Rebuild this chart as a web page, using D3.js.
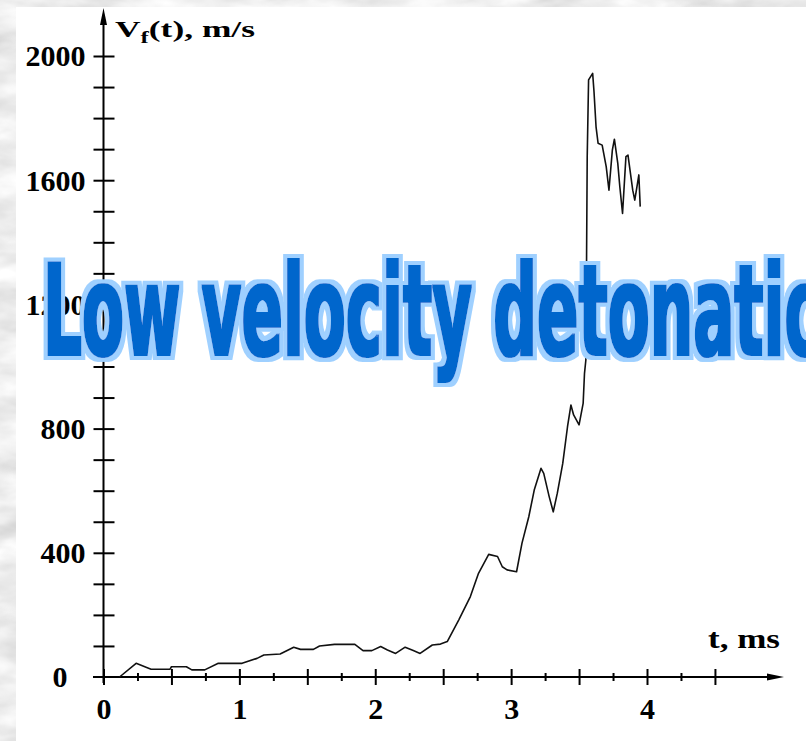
<!DOCTYPE html>
<html>
<head>
<meta charset="utf-8">
<script src="https://cdn.jsdelivr.net/npm/d3@7"></script>
<style>
  html, body { margin: 0; padding: 0; background: #fff; overflow: hidden; }
  svg { display: block; }
</style>
</head>
<body>
<svg id="chart" width="806" height="741"></svg>
<script>
// Flame front velocity V_f(t) against time, ms
const timeMs = [
  0.118, 0.24, 0.35, 0.49, 0.50, 0.61, 0.65, 0.745, 0.845, 1.02,
  1.13, 1.18, 1.30, 1.40, 1.45, 1.545, 1.59, 1.70, 1.85, 1.91,
  1.975, 2.04, 2.09, 2.15, 2.22, 2.28, 2.33, 2.42, 2.48, 2.53,
  2.615, 2.70, 2.76, 2.835, 2.90, 2.935, 2.97, 3.04, 3.08, 3.13,
  3.17, 3.22, 3.24, 3.28, 3.31, 3.34, 3.38, 3.415, 3.44, 3.46,
  3.50, 3.53, 3.54, 3.55, 3.555, 3.56, 3.57, 3.60, 3.61, 3.625,
  3.64, 3.67, 3.70, 3.72, 3.745, 3.76, 3.785, 3.80, 3.82, 3.845,
  3.86, 3.895, 3.91, 3.93, 3.94, 3.95
];
const velocity = [
  0, 44, 25, 25, 33, 33, 23, 23, 44, 44,
  60, 71, 74, 96, 89, 89, 100, 105, 105, 85,
  85, 98, 87, 76, 96, 85, 76, 103, 106, 114,
  184, 259, 334, 395, 388, 355, 345, 339, 431, 516,
  602, 672, 656, 581, 532, 592, 688, 806, 876, 844,
  812, 881, 978, 1021, 1332, 1676, 1923, 1944, 1885, 1772,
  1719, 1713, 1643, 1568, 1697, 1732, 1654, 1579, 1493, 1676,
  1681, 1568, 1536, 1590, 1617, 1515
];

const yTickValues = d3.range(100, 2001, 100);
const yLabelValues = [400, 800, 1200, 1600, 2000];
const yOriginLabel = "0";
const xTickValues = d3.range(0, 4.51, 0.25);
const xLabelValues = [0, 1, 2, 3, 4];
const yTitleMain = "V";
const yTitleSub = "f";
const yTitleRest = "(t), m/s";
const xTitle = "t, ms";
const bannerText = "Low velocity detonation";

const W = 806, H = 741;
const svg = d3.select("#chart");
const defs = svg.append("defs");

// grey mottled backdrop
const marble = defs.append("filter").attr("id", "marble")
  .attr("x", 0).attr("y", 0).attr("width", "100%").attr("height", "100%");
marble.append("feTurbulence").attr("type", "fractalNoise")
  .attr("baseFrequency", "0.015 0.035").attr("numOctaves", 4).attr("seed", 11);
marble.append("feColorMatrix").attr("type", "matrix")
  .attr("values", "0.3 0.3 0.3 0 0.4  0.3 0.3 0.3 0 0.4  0.3 0.3 0.3 0 0.4  0 0 0 0 1");

// heavy lettering with a light outline for the banner
const halo = defs.append("filter").attr("id", "halo")
  .attr("x", "-5%").attr("y", "-20%").attr("width", "115%").attr("height", "150%");
halo.append("feMorphology").attr("in", "SourceAlpha").attr("operator", "dilate")
  .attr("radius", 5).attr("result", "thick");
halo.append("feFlood").attr("flood-color", "#9fd0ff").attr("result", "tint");
halo.append("feComposite").attr("in", "tint").attr("in2", "thick").attr("operator", "in").attr("result", "outline");
halo.append("feMorphology").attr("in", "SourceAlpha").attr("operator", "dilate")
  .attr("radius", 1.2).attr("result", "body");
halo.append("feFlood").attr("flood-color", "#0066cc").attr("result", "blue");
halo.append("feComposite").attr("in", "blue").attr("in2", "body").attr("operator", "in").attr("result", "fillShape");
const merge = halo.append("feMerge");
merge.append("feMergeNode").attr("in", "outline");
merge.append("feMergeNode").attr("in", "fillShape");

svg.append("rect").attr("width", W).attr("height", H).attr("fill", "#ddd").attr("filter", "url(#marble)");
svg.append("rect").attr("x", 16).attr("y", 7).attr("width", W - 16).attr("height", H - 7).attr("fill", "#fff");

const x = d3.scaleLinear().domain([0, 4]).range([103.5, 647]);
const y = d3.scaleLinear().domain([0, 2000]).range([677, 56]);

const serif = "'Liberation Serif', 'Times New Roman', serif";
const x0 = x(0), y0 = y(0);

// axis lines with arrowheads
svg.append("line").attr("x1", x0).attr("x2", x0).attr("y1", y0 + 6).attr("y2", 20)
  .attr("stroke", "#000").attr("stroke-width", 2);
svg.append("path").attr("d", `M${x0},8 L${x0 - 3.5},25 L${x0 + 3.5},25 Z`).attr("fill", "#000");
svg.append("line").attr("x1", 93).attr("x2", 772).attr("y1", y0).attr("y2", y0)
  .attr("stroke", "#000").attr("stroke-width", 2);
svg.append("path").attr("d", `M784,${y0} L767,${y0 - 3.5} L767,${y0 + 3.5} Z`).attr("fill", "#000");

// y axis
const gy = svg.append("g").attr("transform", `translate(${x0},0)`)
  .call(d3.axisLeft(y).tickValues(yTickValues).tickSize(0)
    .tickFormat(d => yLabelValues.includes(d) ? String(d) : ""));
gy.select(".domain").remove();
gy.selectAll(".tick line").attr("x1", -10).attr("x2", 11).attr("stroke", "#000").attr("stroke-width", 2);
gy.selectAll(".tick text").attr("x", -18).attr("dy", "0.33em")
  .attr("fill", "#000").attr("font-family", serif).attr("font-weight", "bold").attr("font-size", 30)
  .attr("text-anchor", "end");
svg.append("text").attr("x", 60).attr("y", y0).attr("dy", "0.33em").attr("text-anchor", "middle")
  .attr("font-family", serif).attr("font-weight", "bold").attr("font-size", 30).text(yOriginLabel);

// x axis
const gx = svg.append("g").attr("transform", `translate(0,${y0})`)
  .call(d3.axisBottom(x).tickValues(xTickValues).tickSize(0)
    .tickFormat(d => xLabelValues.includes(d) ? String(d) : ""));
gx.select(".domain").remove();
gx.selectAll(".tick line")
  .attr("y1", d => (d % 0.5 === 0 ? -8 : -4))
  .attr("y2", d => (d % 0.5 === 0 ? 8 : 4))
  .attr("stroke", "#000").attr("stroke-width", 2);
gx.selectAll(".tick text").attr("y", 42).attr("dy", null)
  .attr("fill", "#000").attr("font-family", serif).attr("font-weight", "bold").attr("font-size", 30);

// axis titles
const yt = svg.append("text").attr("x", 115).attr("y", 37)
  .attr("font-family", serif).attr("font-weight", "bold").attr("font-size", 23)
  .attr("textLength", 140).attr("lengthAdjust", "spacingAndGlyphs");
yt.append("tspan").text(yTitleMain);
yt.append("tspan").attr("font-size", 16).attr("dy", 6).text(yTitleSub);
yt.append("tspan").attr("dy", -6).text(yTitleRest);

svg.append("text").attr("x", 708).attr("y", 648)
  .attr("font-family", serif).attr("font-weight", "bold").attr("font-size", 27)
  .attr("textLength", 72).attr("lengthAdjust", "spacingAndGlyphs").text(xTitle);

// velocity trace
const line = d3.line().x(d => x(d[0])).y(d => y(d[1]));
svg.append("path").datum(d3.zip(timeMs, velocity)).attr("d", line)
  .attr("fill", "none").attr("stroke", "#111").attr("stroke-width", 1.6).attr("stroke-linejoin", "round");

// banner
svg.append("text").attr("x", 43).attr("y", 355)
  .attr("font-family", "'DejaVu Sans Condensed', 'DejaVu Sans', sans-serif")
  .attr("font-stretch", "condensed").attr("font-weight", "bold").attr("font-size", 126)
  .attr("textLength", 827).attr("lengthAdjust", "spacingAndGlyphs")
  .attr("fill", "#0066cc").attr("filter", "url(#halo)").text(bannerText);
</script>
</body>
</html>
